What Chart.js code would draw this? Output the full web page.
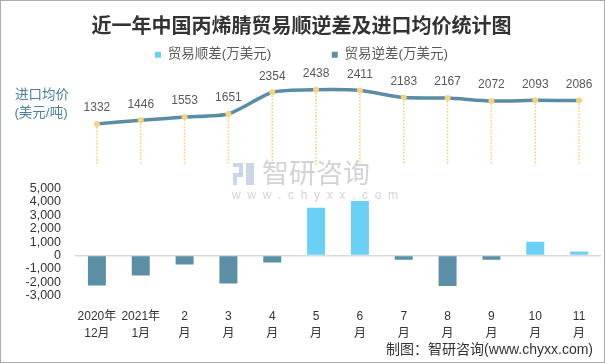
<!DOCTYPE html>
<html>
<head>
<meta charset="utf-8">
<script src="https://cdn.jsdelivr.net/npm/chart.js@4.4.1/dist/chart.umd.min.js"></script>
<style>
  html, body { margin: 0; padding: 0; background: #fff; }
  #wrap { width: 605px; height: 363px; }
</style>
</head>
<body>
<div id="wrap"><canvas id="myChart" width="605" height="363"></canvas></div>
<script>
const months = [["2020年", "12月"], ["2021年", "1月"], ["2", "月"], ["3", "月"], ["4", "月"], ["5", "月"],
  ["6", "月"], ["7", "月"], ["8", "月"], ["9", "月"], ["10", "月"], ["11", "月"]]
const avgPrice = [1332, 1446, 1553, 1651, 2354, 2438, 2411, 2183, 2167, 2072, 2093, 2086]
const surplus = [null, null, null, null, null, 3560, 4070, null, null, null, 1040, 300]
const deficit = [-2220, -1480, -670, -2070, -520, null, null, -300, -2270, -300, null, null]
const barTicks = [-3000, -2000, -1000, 0, 1000, 2000, 3000, 4000, 5000]

const cjk = "'Liberation Sans', 'Noto Sans CJK SC', sans-serif"
const $ctx = document.getElementById("myChart")

const extras = {
  id: "extras",
  beforeDatasetsDraw(chart) {
    const c = chart.ctx
    const meta = chart.getDatasetMeta(0)
    const base = chart.scales.yPrice.getPixelForValue(0)
    c.save()
    // watermark
    c.fillStyle = "rgba(200,200,200,0.8)"
    c.font = "27px 'Noto Sans CJK SC'"
    c.textAlign = "left"
    c.textBaseline = "middle"
    c.fillText("智研咨询", 262, 173)
    c.font = "12px 'Liberation Sans'"
    c.fillText("w  w  w  .  c  h  y  x  x  .  c  o  m", 232, 196)
    c.fillStyle = "rgba(190,205,222,0.8)"
    c.fillRect(233, 163, 10, 4)
    c.fillRect(239, 167, 4, 8)
    c.fillRect(233, 173, 10, 4)
    c.fillRect(233, 177, 4, 8)
    c.fillRect(246, 163, 8, 22)
    // drop lines from the price points
    c.strokeStyle = "#F6D27C"
    c.lineWidth = 1.6
    c.setLineDash([1.6, 1.6])
    meta.data.forEach(p => {
      c.beginPath()
      c.moveTo(p.x, p.y)
      c.lineTo(p.x, base)
      c.stroke()
    })
    c.restore()
  },
  afterDatasetsDraw(chart) {
    const c = chart.ctx
    const meta = chart.getDatasetMeta(0)
    c.save()
    c.fillStyle = "#595959"
    c.font = "12px 'Liberation Sans'"
    c.textAlign = "center"
    c.textBaseline = "middle"
    meta.data.forEach((p, i) => {
      c.fillText(avgPrice[i], p.x, p.y - 16)
    })
    c.restore()
  },
  afterDraw(chart) {
    const c = chart.ctx
    c.save()
    c.fillStyle = "#4E80A0"
    c.font = "13.5px " + cjk
    c.textAlign = "center"
    c.textBaseline = "middle"
    c.fillText("进口均价", 42, 95)
    c.fillText("(美元/吨)", 41, 113)
    c.fillStyle = "#333"
    c.font = "14px " + cjk
    c.textAlign = "right"
    c.fillText("制图：智研咨询(www.chyxx.com)", 593, 350)
    c.strokeStyle = "#ABABAB"
    c.lineWidth = 1
    c.strokeRect(0.5, 0.5, 604, 362)
    c.restore()
  }
}

new Chart($ctx, {
  type: "bar",
  data: {
    labels: months,
    datasets: [
      {
        type: "line",
        label: "进口均价(美元/吨)",
        data: avgPrice,
        yAxisID: "yPrice",
        borderColor: "#5A8CA6",
        borderWidth: 3.5,
        tension: 0.2,
        pointRadius: 3,
        pointBackgroundColor: "#F6D27C",
        pointBorderWidth: 0
      },
      {
        label: "贸易顺差(万美元)",
        data: surplus,
        yAxisID: "yBar",
        backgroundColor: "#6BD0F6",
        barPercentage: 0.41,
        categoryPercentage: 1
      },
      {
        label: "贸易逆差(万美元)",
        data: deficit,
        yAxisID: "yBar",
        backgroundColor: "#5B8FA6",
        barPercentage: 0.41,
        categoryPercentage: 1
      }
    ]
  },
  options: {
    responsive: false,
    animation: false,
    devicePixelRatio: 1,
    layout: { padding: { top: 0, right: 2, bottom: 10, left: 0 } },
    plugins: {
      title: {
        display: true,
        text: "近一年中国丙烯腈贸易顺逆差及进口均价统计图",
        color: "#333",
        font: { size: 20, weight: "bold", family: "'Noto Sans CJK SC'" },
        padding: { top: 13, bottom: 3 }
      },
      legend: {
        labels: {
          boxWidth: 6,
          boxHeight: 6,
          padding: 8,
          color: "#595959",
          font: { size: 13.5, family: cjk },
          generateLabels(chart) {
            const items = Chart.defaults.plugins.legend.labels.generateLabels(chart).filter(i => i.datasetIndex > 0)
            items[0].text += " ".repeat(14)
            items.forEach(i => { i.lineWidth = 0 })
            return items
          }
        }
      },
      tooltip: { enabled: false }
    },
    scales: {
      x: {
        stacked: true,
        grid: { display: false, drawTicks: false },
        border: { display: false },
        ticks: {
          color: "#333",
          padding: 11,
          autoSkip: false,
          maxRotation: 0,
          minRotation: 0,
          font: { size: 12, lineHeight: 1.4, family: cjk }
        }
      },
      yBar: {
        type: "linear",
        position: "left",
        stacked: true,
        min: -3111,
        max: 13704,
        afterBuildTicks(scale) { scale.ticks = barTicks.map(v => ({ value: v })) },
        afterFit(scale) { scale.width = 75 },
        grid: {
          drawTicks: false,
          lineWidth: 1.5,
          color: ctx => (ctx.tick && ctx.tick.value === 0 ? "#D9D9D9" : "rgba(0,0,0,0)")
        },
        border: { display: false },
        ticks: {
          color: "#333",
          padding: 14,
          font: { size: 12.5, family: "'Liberation Sans'" },
          callback: v => v.toLocaleString("en-US")
        }
      },
      yPrice: {
        type: "linear",
        position: "right",
        display: false,
        min: -4283,
        max: 3027
      }
    }
  },
  plugins: [extras]
})
</script>
</body>
</html>
